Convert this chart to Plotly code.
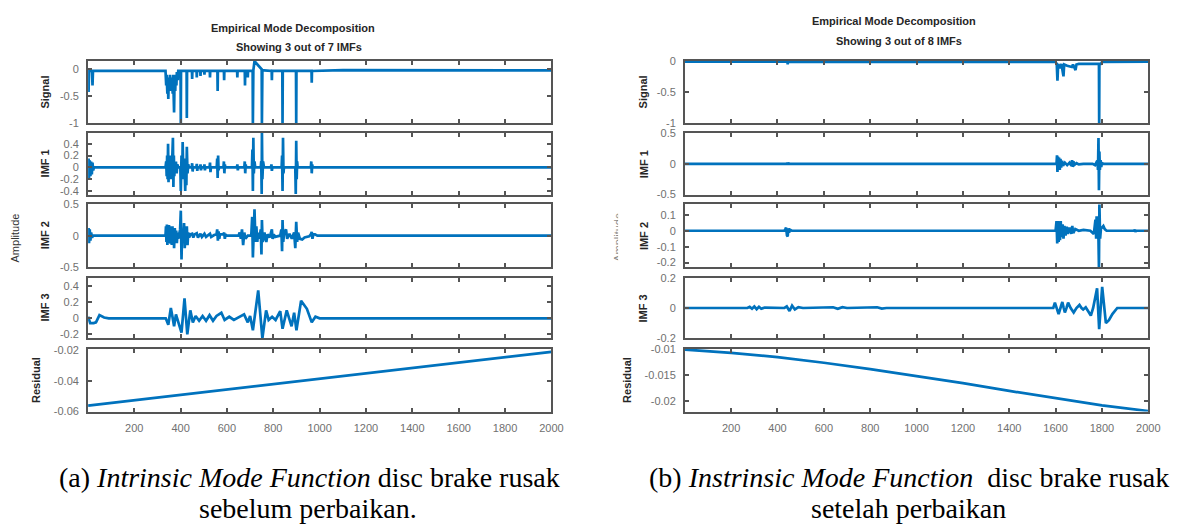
import plotly.graph_objects as go

W, H = 1190, 529
BLUE = '#0072BD'
BOX = '#555555'
TICKTXT = '#707070'

# ---------------- LEFT PANEL (before repair, 7 IMFs) ----------------
L_sig_x = [1, 3, 5, 18, 20, 22,
           335, 338, 340, 343, 345, 347, 349, 352, 354, 357, 359, 362, 364, 366, 368, 370, 372, 374, 377, 379, 382, 384, 388, 390,
           400, 401, 402, 426, 427, 428,
           449, 450, 451, 469, 470, 471, 485, 486, 487, 502, 503, 504, 526, 527, 528, 559, 560, 561, 587, 588, 589,
           644, 645, 646, 677, 678, 679, 689, 690, 691,
           711, 712, 714, 719, 730, 740, 750, 751, 753, 760,
           793, 794, 795, 839, 840, 841, 898, 899, 900, 965, 966, 967, 1100, 1800, 2000]
L_sig_y = [-0.02, -0.42, -0.03, -0.03, -0.30, -0.03,
           -0.03, -0.30, -0.10, -0.45, -0.15, -0.55, -0.20, -0.40, -0.10, -0.35, -0.15, -0.40, -0.20, -0.45, -0.10, -0.38, -0.80, -0.20, -0.40, -0.10, -0.30, -0.05, -0.20, -0.03,
           -0.03, -1.0, -0.03, -0.03, -0.90, -0.03,
           -0.03, -0.18, -0.03, -0.03, -0.15, -0.03, -0.03, -0.12, -0.03, -0.03, -0.10, -0.03, -0.03, -0.15, -0.03, -0.03, -0.40, -0.03, -0.03, -0.20, -0.03,
           -0.03, -0.15, -0.03, -0.03, -0.30, -0.03, -0.03, -0.15, -0.03,
           -0.03, -1.0, -0.02, 0.15, 0.10, 0.04, 0.0, -1.0, -0.02, -0.02,
           -0.03, -0.20, -0.03, -0.03, -1.0, -0.03, -0.03, -1.0, -0.03, -0.03, -0.25, -0.03, -0.015, -0.015, -0.02]

L_imf1_x = [1, 3, 5, 8, 11, 14, 17, 20, 23, 26,
            335, 338, 340, 342, 344, 346, 348, 350, 352, 355, 357, 360, 362, 365, 367, 369, 371, 373, 376, 378, 380, 383, 386, 390,
            399, 401, 404, 407, 409, 412, 415, 418, 420, 423, 425, 427, 430, 433, 436,
            448, 450, 452, 454, 468, 470, 472, 474, 484, 486, 488, 490, 501, 503, 505, 507, 525, 527, 529, 531,
            556, 558, 560, 562, 564, 566, 585, 587, 589, 591, 593,
            643, 645, 647, 649, 675, 677, 679, 681, 683,
            708, 710, 712, 714, 716, 719, 722, 746, 748, 750, 751, 753, 756, 760,
            790, 792, 794, 796, 836, 838, 840, 842, 844, 846, 895, 897, 899, 901, 903, 905, 962, 964, 966, 968, 970, 2000]
L_imf1_y = [0, 0.15, -0.18, 0.12, -0.15, 0.10, -0.12, 0.08, -0.05, 0,
            0, 0.10, -0.15, 0.20, -0.20, 0.40, -0.25, 0.15, -0.15, 0.20, -0.20, 0.15, -0.10, 0.30, 0.50, -0.33, 0.20, -0.15, 0.10, -0.05, 0.10, -0.10, 0.05, 0,
            0, -0.40, 0.20, -0.20, 0.43, -0.15, 0.15, -0.10, -0.40, 0.10, -0.30, 0.35, -0.10, 0.05, 0,
            0, 0.07, -0.07, 0, 0, 0.06, -0.06, 0, 0, 0.05, -0.05, 0, 0, 0.05, -0.05, 0, 0, 0.08, -0.08, 0,
            0, 0.15, -0.18, 0.20, -0.05, 0, 0, 0.10, -0.10, 0.05, 0,
            0, 0.05, -0.05, 0, 0, 0.10, -0.10, 0.05, 0,
            0, 0.30, -0.40, 0.50, -0.10, 0.10, 0, 0, 0.10, -0.45, 0.62, -0.20, 0.10, 0,
            0, 0.05, -0.06, 0, 0, 0.20, -0.40, 0.50, -0.10, 0, 0, -0.45, 0.45, -0.20, 0.10, 0, 0, 0.10, -0.10, 0.05, 0, 0]

L_imf2_x = [1, 3, 5, 8, 11, 14, 18, 22,
            335, 337, 339, 341, 343, 345, 347, 350, 352, 355, 357, 360, 362, 365, 367, 370, 372, 375, 378, 381, 384, 387, 390, 393,
            398, 401, 404, 407, 411, 415, 418, 421, 424, 427, 430, 433, 437, 442,
            450, 455, 460, 470, 475, 486, 492, 503, 510, 527, 532, 545,
            555, 558, 561, 564, 567, 570, 585, 588, 591, 594, 600,
            650, 655, 660, 665, 670, 675, 680, 690,
            705, 709, 712, 716, 719, 723, 727, 731, 735, 740, 746, 749, 751, 754, 758, 762, 770, 775, 785, 790, 794, 797, 802, 808,
            830, 835, 838, 840, 843, 847, 855, 860, 870, 880,
            890, 895, 899, 903, 907, 915, 925, 935, 945, 955, 962, 966, 969, 973, 980, 990, 2000]
L_imf2_y = [0, 0.12, -0.12, 0.10, -0.08, 0.05, -0.03, 0,
            0, 0.15, -0.10, 0.18, -0.15, 0.15, -0.12, 0.17, -0.10, 0.15, -0.13, 0.12, -0.15, 0.15, -0.10, 0.10, -0.20, 0.12, -0.10, 0.08, -0.12, 0.05, -0.05, 0.02,
            0.10, 0.40, -0.38, 0.10, -0.10, 0.20, -0.20, 0.10, -0.10, 0.15, -0.15, 0.05, -0.03, 0.02,
            0.03, -0.03, 0.02, 0.04, -0.03, 0.03, -0.02, 0.03, -0.02, 0.03, -0.02, 0.01,
            0.02, 0.10, -0.08, 0.07, -0.05, 0.02, 0.02, 0.05, -0.05, 0.02, 0,
            0, 0.05, -0.05, 0.10, -0.15, 0.05, -0.05, 0,
            0, 0.30, -0.35, 0.20, 0.42, -0.10, 0.15, -0.10, 0.05, -0.05, 0.10, -0.30, 0.25, -0.10, -0.05, 0.05, -0.10, 0.02, -0.03, 0.05, 0.10, -0.05, 0.02, -0.02,
            0, 0.10, -0.25, 0.25, -0.10, 0.05, 0.10, -0.05, 0.03, -0.05,
            0.05, -0.20, 0.22, -0.10, 0.05, -0.05, -0.06, -0.03, -0.02, -0.01, 0.02, 0.06, -0.05, 0.02, 0.02, 0, 0]

L_imf3_x = [1, 10, 25, 35, 50, 70, 90, 336, 347, 358, 365, 372, 380, 390, 404, 417, 429, 442, 453, 465, 480, 495, 510, 525, 540, 555, 576, 590, 610, 630,
            650, 674, 690, 700, 712, 735, 753, 769, 780, 795, 810, 830, 840, 858, 879, 890, 900, 920, 945, 966, 982, 1000, 2000]
L_imf3_y = [0.02, -0.06, -0.06, -0.05, 0.04, 0.01, 0.0, 0.0, -0.08, 0.13, 0.02, -0.10, 0.05, -0.05, -0.18, 0.25, -0.20, 0.10, -0.05, 0.03, -0.03, 0.03, -0.03, 0.04, -0.03, 0.03, 0.07, -0.02, 0.02, -0.02,
            0.01, 0.05, -0.05, 0.03, -0.15, 0.35, -0.25, 0.10, -0.02, 0.02, -0.02, 0.09, -0.13, 0.10, -0.10, 0.07, -0.15, 0.22, 0.12, -0.05, 0.02, 0.0, 0.0]

L_res_x = [1, 500, 1000, 1500, 2000]
L_res_y = [-0.0562, -0.0475, -0.0388, -0.0300, -0.0213]

# ---------------- RIGHT PANEL (after repair, 8 IMFs) ----------------
R_sig_x = [1, 443, 444, 445, 1600, 1605, 1608, 1611, 1618, 1625, 1634, 1637, 1650, 1670, 1675, 1686, 1690, 1700,
           1787, 1788, 1789, 1795, 1800, 2000]
R_sig_y = [-0.015, -0.015, -0.06, -0.015, -0.02, -0.05, -0.32, -0.05, -0.12, -0.05, -0.25, -0.06, -0.08, -0.10, -0.06, -0.15, -0.06, -0.05,
           -0.05, -1.0, -0.05, -0.05, -0.02, -0.015]

R_imf1_x = [1, 440, 442, 444, 446, 448, 1604, 1606, 1608, 1610, 1612, 1615, 1618, 1621, 1624, 1628, 1632, 1640, 1650, 1660, 1668, 1671, 1674, 1677, 1680, 1690, 1700, 1720,
            1760, 1770, 1780, 1783, 1785, 1787, 1789, 1791, 1794, 1797, 1800, 1805, 2000]
R_imf1_y = [0, 0, 0.02, -0.02, 0.02, 0, 0, 0.14, -0.13, 0.12, -0.08, 0.10, -0.10, 0.08, -0.06, 0.05, -0.03, 0.02, -0.02, 0.02, -0.03, 0.06, -0.05, 0.04, -0.02, 0.01, -0.01, 0,
            0, -0.02, 0.05, -0.10, 0.42, -0.43, 0.20, -0.10, 0.06, -0.05, 0.02, 0, 0]

R_imf2_x = [1, 430, 434, 437, 441, 444, 447, 450, 455, 462,
            1600, 1604, 1607, 1610, 1613, 1616, 1619, 1622, 1625, 1630, 1634, 1638, 1643, 1648, 1653, 1660, 1668, 1672, 1676, 1685, 1700, 1720, 1750,
            1765, 1772, 1775, 1777, 1780, 1784, 1787, 1789, 1792, 1796, 1800, 1806, 1812, 1820, 1940, 1942, 1944, 1946, 2000]
R_imf2_y = [0, 0, 0.01, 0.02, -0.03, -0.035, 0.015, -0.01, 0.005, 0,
            0, 0.06, -0.08, 0.06, -0.07, 0.05, -0.06, 0.06, -0.04, 0.04, -0.05, 0.03, -0.03, 0.025, -0.02, 0.02, -0.02, 0.03, -0.015, 0.01, 0.0, 0.005, 0,
            -0.02, 0.07, -0.05, 0.09, -0.03, 0.04, -0.23, 0.17, -0.05, 0.02, 0.02, 0.03, 0.01, 0, 0, 0.008, -0.008, 0, 0]

R_imf3_x = [1, 270, 280, 290, 300, 310, 320, 330, 345, 430, 440, 452, 463, 475, 490, 510, 640, 660, 680, 700, 830, 850, 870,
            1590, 1597, 1605, 1613, 1621, 1629, 1635, 1640, 1647, 1654, 1665, 1678, 1690, 1703, 1712, 1719, 1730, 1740, 1752, 1762,
            1779, 1788, 1801, 1817, 1830, 1845, 1866, 1900, 1940, 1950, 1960, 2000]
R_imf3_y = [0, 0, 0.008, -0.005, 0.010, -0.008, 0.008, -0.005, 0.003, 0, 0.010, -0.020, 0.015, -0.010, 0.005, 0, 0.005, -0.005, 0.005, 0, 0.005, -0.004, 0,
            0, 0.035, 0.0, -0.04, 0.0, 0.04, 0.0, -0.03, 0.0, 0.035, 0.0, -0.03, 0.0, 0.02, 0.0, -0.01, 0.005, -0.02, -0.05, 0.0,
            0.13, -0.14, 0.14, -0.10, -0.08, -0.04, 0.0, 0.0, 0.0, -0.005, 0.0, 0.0]

R_res_x = [1, 200, 400, 600, 800, 1000, 1200, 1400, 1600, 1800, 2000]
R_res_y = [-0.0100, -0.01064, -0.01146, -0.01255, -0.0138, -0.0151, -0.0165, -0.0180, -0.0194, -0.0208, -0.0219]

X_TICKS = [200, 400, 600, 800, 1000, 1200, 1400, 1600, 1800, 2000]
ROW_LABELS = ['Signal', 'IMF 1', 'IMF 2', 'IMF 3', 'Residual']

L_ranges = [[-1, 0.16], [-0.46, 0.58], [-0.5, 0.5], [-0.25, 0.51], [-0.06, -0.0195]]
L_ticks = [[-1, -0.5, 0], [-0.4, -0.2, 0, 0.2, 0.4], [-0.5, 0, 0.5], [-0.2, 0, 0.2, 0.4], [-0.06, -0.04, -0.02]]
L_ticktext = [['-1', '-0.5', '0'], ['-0.4', '-0.2', '0', '0.2', '0.4'], ['-0.5', '0', '0.5'], ['-0.2', '0', '0.2', '0.4'], ['-0.06', '-0.04', '-0.02']]

R_ranges = [[-1, 0.0], [-0.5, 0.5], [-0.227, 0.165], [-0.2, 0.2], [-0.022, -0.0099]]
R_ticks = [[-1, -0.5, 0], [-0.5, 0, 0.5], [-0.2, -0.1, 0, 0.1], [-0.2, 0, 0.2], [-0.02, -0.015, -0.01]]
R_ticktext = [['-1', '-0.5', '0'], ['-0.5', '0', '0.5'], ['-0.2', '-0.1', '0', '0.1'], ['-0.2', '0', '0.2'], ['-0.02', '-0.015', '-0.01']]

L_series = [(L_sig_x, L_sig_y), (L_imf1_x, L_imf1_y), (L_imf2_x, L_imf2_y), (L_imf3_x, L_imf3_y), (L_res_x, L_res_y)]
R_series = [(R_sig_x, R_sig_y), (R_imf1_x, R_imf1_y), (R_imf2_x, R_imf2_y), (R_imf3_x, R_imf3_y), (R_res_x, R_res_y)]

# layout geometry (pixels)
ROWS_PX = [(56, 120), (130, 193), (203, 267), (278, 340), (351, 415)]
PANELS_PX = [(89, 557), (692, 1160)]


def fx(px):
    return px / W


def fy(py):
    return 1 - py / H


fig = go.Figure()
layout = dict(width=W, height=H, margin=dict(l=0, r=0, t=0, b=0),
              paper_bgcolor='white', plot_bgcolor='white', showlegend=False,
              font=dict(family='Liberation Sans, Arial', size=11, color=TICKTXT))

panel_defs = [(L_series, L_ranges, L_ticks, L_ticktext), (R_series, R_ranges, R_ticks, R_ticktext)]
idx = 0
for p, (series, ranges, ticks, ttext) in enumerate(panel_defs):
    x0, x1 = PANELS_PX[p]
    for r in range(5):
        idx += 1
        sx = '' if idx == 1 else str(idx)
        xs, ys = series[r]
        fig.add_trace(go.Scatter(x=xs, y=ys, mode='lines', xaxis='x' + sx, yaxis='y' + sx,
                                 line=dict(color=BLUE, width=2.7), hoverinfo='skip'))
        top, bot = ROWS_PX[r]
        layout['xaxis' + sx] = dict(domain=[fx(x0), fx(x1)], anchor='y' + sx, range=[1, 2000],
                                    showline=True, linecolor=BOX, linewidth=2, mirror='ticks',
                                    ticks='inside', ticklen=4, tickwidth=1.5, tickcolor=BOX,
                                    tickvals=X_TICKS, showticklabels=(r == 4), showgrid=False, zeroline=False,
                                    ticklabelstandoff=5, tickfont=dict(size=11, color=TICKTXT))
        layout['yaxis' + sx] = dict(domain=[fy(bot), fy(top)], anchor='x' + sx, range=ranges[r],
                                    showline=True, linecolor=BOX, linewidth=2, mirror='ticks',
                                    ticks='inside', ticklen=4, tickwidth=1.5, tickcolor=BOX,
                                    tickvals=ticks[r], ticktext=ttext[r], showgrid=False, zeroline=False,
                                    ticklabelstandoff=5, tickfont=dict(size=11, color=TICKTXT))

annotations = []


def ann(text, px, py, size=11, bold=False, color='#262626', angle=0, family='Liberation Sans, Arial', **kw):
    t = '<b>%s</b>' % text if bold else text
    d = dict(text=t, x=fx(px), y=fy(py), xref='paper', yref='paper', showarrow=False,
             font=dict(size=size, color=color, family=family), textangle=angle,
             xanchor='center', yanchor='middle')
    d.update(kw)
    annotations.append(d)


# titles
ann('Empirical Mode Decomposition', 296, 23, bold=True)
ann('Showing 3 out of 7 IMFs', 302, 42, bold=True)
ann('Empirical Mode Decomposition', 903, 15, bold=True)
ann('Showing 3 out of 8 IMFs', 908, 36, bold=True)

# row labels
L_lab_x = [45, 45, 45, 45, 37]
R_lab_x = [650, 650, 650, 650, 634]
for r in range(5):
    cy = (ROWS_PX[r][0] + ROWS_PX[r][1]) / 2
    ann(ROW_LABELS[r], L_lab_x[r], cy, bold=True, angle=-90)
    ann(ROW_LABELS[r], R_lab_x[r], cy, bold=True, angle=-90)

ann('Amplitude', 15, 237, color='#333333', angle=-90)
# right-hand y label is cut off in the source image: show only a thin strip of it
ann('Amplitude', 621, 237, color='#8a8a8a', angle=-90, size=11, width=60, height=6, valign='top')

# captions
SERIF = 'Liberation Serif, Times New Roman'
CAP = 28
ann('(a) <i>Intrinsic Mode Function</i> disc brake rusak', 313, 482, size=CAP, color='black', family=SERIF)
ann('sebelum perbaikan.', 311, 514, size=CAP, color='black', family=SERIF)
ann('(b) <i>Instrinsic Mode Function</i>&nbsp; disc brake rusak', 918, 482, size=CAP, color='black', family=SERIF)
ann('setelah perbaikan', 918, 514, size=CAP, color='black', family=SERIF)

layout['annotations'] = annotations
fig.update_layout(**layout)
fig.write_html('out.html', config={'displayModeBar': False},
               post_script="document.body.style.margin='0';document.body.style.padding='0';")
